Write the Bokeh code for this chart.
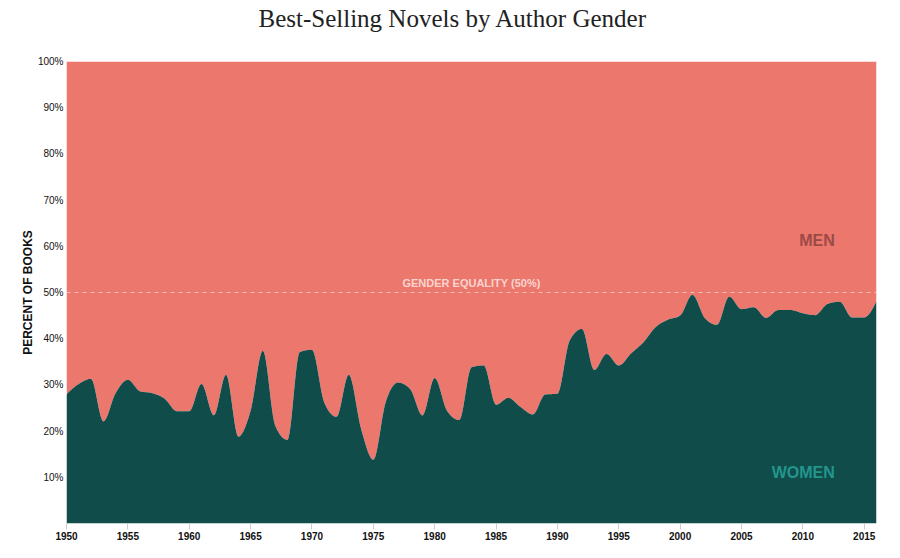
import numpy as np
from bokeh.plotting import figure
from bokeh.models import Span, Label, FixedTicker, Range1d, Title
from bokeh.embed import file_html
from bokeh.resources import INLINE

years = list(range(1950, 2017))
women = [28.0, 30.2, 31.3, 22.1, 28.2, 31.1, 28.6, 28.2, 27.0, 24.3,
         24.3, 30.2, 23.4, 32.2, 18.8, 24.4, 37.4, 21.2, 18.1, 37.1,
         37.6, 26.2, 23.1, 32.2, 20.5, 13.8, 26.2, 30.5, 29.1, 23.4,
         31.5, 24.4, 22.4, 33.8, 34.2, 25.7, 27.2, 25.2, 23.6, 27.9,
         28.1, 39.6, 42.1, 33.2, 36.7, 34.2, 36.8, 39.2, 42.5, 44.1,
         45.0, 49.5, 44.5, 43.0, 49.1, 46.4, 46.8, 44.5, 46.2, 46.2,
         45.5, 45.1, 47.5, 48.0, 44.6, 44.6, 48.1]
men = [100.0 - w for w in women]
y_ticks = [10, 20, 30, 40, 50, 60, 70, 80, 90, 100]
y_tick_labels = {t: f"{t}%" for t in y_ticks}
x_ticks = list(range(1950, 2016, 5))

MEN_C = "#EC776D"
WOMEN_C = "#0F4C4A"


def monotone_x(xs, ys, n=12):
    """d3.curveMonotoneX-style rendering of the series (drawing only)."""
    xs = np.asarray(xs, float)
    ys = np.asarray(ys, float)
    h = np.diff(xs)
    s = np.diff(ys) / h
    m = np.zeros_like(ys)
    for i in range(1, len(xs) - 1):
        h0, h1, s0, s1 = h[i - 1], h[i], s[i - 1], s[i]
        p = (s0 * h1 + s1 * h0) / (h0 + h1)
        m[i] = (np.sign(s0) + np.sign(s1)) * min(abs(s0), abs(s1), 0.5 * abs(p))
    m[0] = (3 * s[0] - m[1]) / 2
    m[-1] = (3 * s[-1] - m[-2]) / 2
    ox, oy = [], []
    for i in range(len(xs) - 1):
        t = np.linspace(0, 1, n, endpoint=False)
        hh = h[i]
        h00 = 2 * t**3 - 3 * t**2 + 1
        h10 = t**3 - 2 * t**2 + t
        h01 = -2 * t**3 + 3 * t**2
        h11 = t**3 - t**2
        ox.extend(xs[i] + t * hh)
        oy.extend(h00 * ys[i] + h10 * hh * m[i] + h01 * ys[i + 1] + h11 * hh * m[i + 1])
    ox.append(xs[-1])
    oy.append(ys[-1])
    return np.array(ox), np.array(oy)


cx, cw = monotone_x(years, women)

p = figure(width=892, height=550, output_backend="svg", toolbar_location=None,
           x_range=Range1d(1950, 2016), y_range=Range1d(0, 100),
           min_border_left=66, min_border_right=16, min_border_top=61,
           min_border_bottom=27, title=None)
p.outline_line_color = None
p.grid.visible = False
p.background_fill_color = "white"

# spacer panel next to the frame, then the title above it
p.add_layout(Title(text=" ", text_font_size="10px", standoff=13), "above")
p.add_layout(Title(text="Best-Selling Novels by Author Gender", align="left",
                   offset=192, vertical_align="top", text_font="Liberation Serif",
                   text_font_style="normal", text_font_size="25px",
                   text_color="#222222", standoff=4), "above")

p.varea(x=cx, y1=cw, y2=np.full_like(cw, 100.0), fill_color=MEN_C)
p.varea(x=cx, y1=np.zeros_like(cw), y2=cw, fill_color=WOMEN_C)

p.add_layout(Span(location=50, dimension="width", line_color="#F7C3BD",
                  line_dash="4 4", line_width=1, line_alpha=0.9))

p.add_layout(Label(x=1983.0, y=52.0, text="GENDER EQUALITY (50%)",
                   text_align="center", text_baseline="alphabetic",
                   text_font="Liberation Sans", text_font_style="bold",
                   text_font_size="11px", text_color="#FAD4CF"))
p.add_layout(Label(x=2012.6, y=61.2, text="MEN", text_align="right",
                   text_baseline="alphabetic", text_font="Liberation Sans",
                   text_font_style="bold", text_font_size="16px",
                   text_color="#9B4A44"))
p.add_layout(Label(x=2012.6, y=11.0, text="WOMEN", text_align="right",
                   text_baseline="alphabetic", text_font="Liberation Sans",
                   text_font_style="bold", text_font_size="16px",
                   text_color="#22968C"))

xa = p.xaxis[0]
xa.ticker = FixedTicker(ticks=x_ticks)
xa.axis_line_color = None
xa.major_tick_in = 0
xa.major_tick_out = 6
xa.major_tick_line_color = "#cccccc"
xa.minor_tick_line_color = None
xa.major_label_text_font = "Liberation Sans"
xa.major_label_text_font_style = "bold"
xa.major_label_text_font_size = "10px"
xa.major_label_text_color = "#111111"
xa.major_label_standoff = 2

ya = p.yaxis[0]
ya.ticker = FixedTicker(ticks=y_ticks)
ya.major_label_overrides = y_tick_labels
ya.axis_line_color = None
ya.major_tick_line_color = None
ya.minor_tick_line_color = None
ya.major_tick_in = 0
ya.major_tick_out = 0
ya.major_label_standoff = 3
ya.major_label_text_font = "Liberation Sans"
ya.major_label_text_font_size = "10px"
ya.major_label_text_color = "#111111"
ya.axis_label = "PERCENT OF BOOKS"
ya.axis_label_text_font = "Liberation Sans"
ya.axis_label_text_font_style = "bold"
ya.axis_label_text_font_size = "12px"
ya.axis_label_text_color = "#111111"
ya.axis_label_standoff = 0

open("out.html", "w").write(file_html(p, INLINE))
